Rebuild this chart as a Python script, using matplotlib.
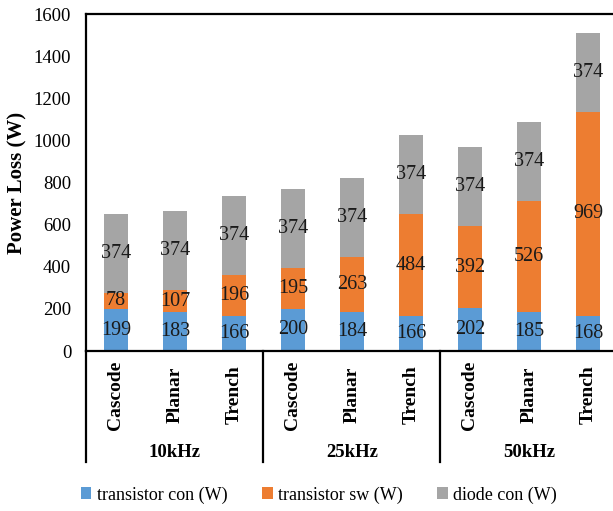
import matplotlib
matplotlib.use("Agg")
import matplotlib.pyplot as plt
import matplotlib.transforms as mtransforms
from matplotlib.lines import Line2D
from matplotlib.patches import Patch
import numpy as np

plt.rcParams['font.family'] = ['Liberation Serif', 'DejaVu Serif']

devices = ["Cascode", "Planar", "Trench"] * 3
frequencies = ["10kHz", "25kHz", "50kHz"]
transistor_con = [199, 183, 166, 200, 184, 166, 202, 185, 168]
transistor_sw = [78, 107, 196, 195, 263, 484, 392, 526, 969]
diode_con = [374, 374, 374, 374, 374, 374, 374, 374, 374]
series_names = ["transistor con (W)", "transistor sw (W)", "diode con (W)"]
colors = ["#5B9BD5", "#ED7D31", "#A5A5A5"]

fig = plt.figure(figsize=(6.13, 5.11), dpi=100)
ax = fig.add_axes([0.1411, 0.3131, 0.8662, 0.6595])

x = np.arange(len(devices))
width = 0.41
bottom = np.zeros(len(devices))
for vals, col in zip([transistor_con, transistor_sw, diode_con], colors):
    vals = np.array(vals, dtype=float)
    ax.bar(x, vals, width, bottom=bottom, color=col, zorder=2)
    for xi, b, v in zip(x, bottom, vals):
        ax.text(xi, b + v / 2, f"{int(v)}", ha='center', va='center',
                fontsize=14.5, color='#1a1a1a', zorder=3)
    bottom += vals

ax.set_xlim(-0.5, len(devices) - 0.5)
ax.set_ylim(0, 1600)
ax.set_yticks(np.arange(0, 1601, 200))
ax.tick_params(axis='y', length=0, pad=11, labelsize=13.5)
ax.set_xticks([])
for s in ['left', 'top', 'bottom']:
    ax.spines[s].set_linewidth(1.6)
ax.spines['right'].set_visible(False)
ax.set_ylabel("Power Loss (W)", fontsize=15, fontweight='bold')
ax.yaxis.set_label_coords(-0.112, 0.5)

trans = mtransforms.blended_transform_factory(ax.transData, ax.transAxes)
# group separators below the axis
for xs in [-0.5, 2.5, 5.5]:
    ax.add_line(Line2D([xs, xs], [0, -0.33], transform=trans, color='black',
                       lw=1.6, clip_on=False))
# device labels
for xi, d in zip(x, devices):
    ax.text(xi, -0.13, d, transform=trans, rotation=90, ha='center',
            va='center', fontsize=14, fontweight='bold')
# frequency labels
for gi, f in enumerate(frequencies):
    ax.text(gi * 3 + 1, -0.30, f, transform=trans, ha='center', va='center',
            fontsize=13.5, fontweight='bold')

handles = [Patch(facecolor=c, edgecolor='none') for c in colors]
fig.legend(handles, series_names, loc='center', ncol=3,
           bbox_to_anchor=(0.52, 1 - 495 / 511), frameon=False, fontsize=13,
           handlelength=0.6, handleheight=0.6, handletextpad=0.3,
           columnspacing=1.9)

fig.savefig("out.png", dpi=100)
